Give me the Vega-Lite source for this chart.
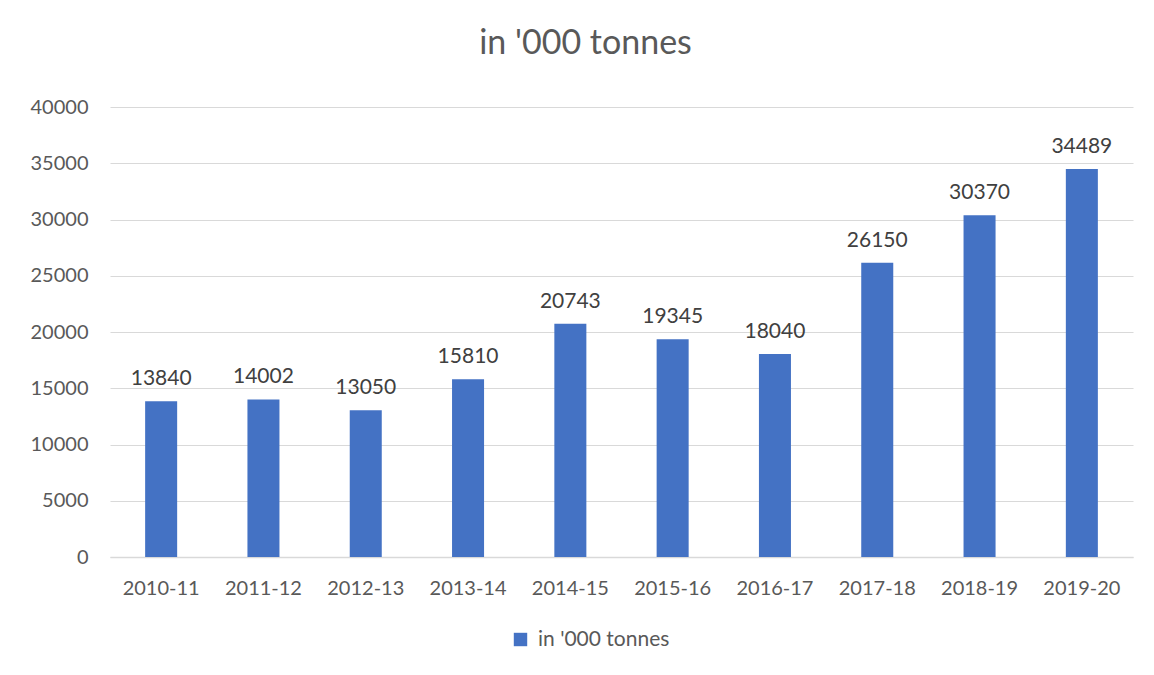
{
  "$schema": "https://vega.github.io/schema/vega-lite/v6.json",
  "autosize": "none",
  "width": 1023,
  "height": 450,
  "padding": {"left": 110, "top": 107, "right": 21, "bottom": 118},
  "background": "white",
  "config": {
    "font": "Lato",
    "view": {"stroke": null}
  },
  "title": {
    "text": "in '000 tonnes",
    "fontSize": 34,
    "font": "Lato",
    "fontWeight": "normal",
    "color": "#595959",
    "anchor": "middle",
    "dx": -36,
    "offset": 36
  },
  "data": {
    "values": [
      {"year": "2010-11", "value": 13840, "series": "in '000 tonnes"},
      {"year": "2011-12", "value": 14002, "series": "in '000 tonnes"},
      {"year": "2012-13", "value": 13050, "series": "in '000 tonnes"},
      {"year": "2013-14", "value": 15810, "series": "in '000 tonnes"},
      {"year": "2014-15", "value": 20743, "series": "in '000 tonnes"},
      {"year": "2015-16", "value": 19345, "series": "in '000 tonnes"},
      {"year": "2016-17", "value": 18040, "series": "in '000 tonnes"},
      {"year": "2017-18", "value": 26150, "series": "in '000 tonnes"},
      {"year": "2018-19", "value": 30370, "series": "in '000 tonnes"},
      {"year": "2019-20", "value": 34489, "series": "in '000 tonnes"}
    ]
  },
  "encoding": {
    "x": {
      "field": "year",
      "type": "nominal",
      "sort": null,
      "scale": {"paddingInner": 0.687, "paddingOuter": 0.3435},
      "axis": {
        "title": null,
        "labelAngle": 0,
        "labelFontSize": 20,
        "labelColor": "#595959",
        "labelPadding": 21,
        "ticks": false,
        "domainColor": "#d9d9d9",
        "domainWidth": 1.5,
        "grid": false
      }
    },
    "y": {
      "field": "value",
      "type": "quantitative",
      "scale": {"domain": [0, 40000], "nice": false},
      "axis": {
        "title": null,
        "values": [0, 5000, 10000, 15000, 20000, 25000, 30000, 35000, 40000],
        "format": "d",
        "labelFontSize": 20,
        "labelColor": "#595959",
        "labelPadding": 22,
        "ticks": false,
        "domain": false,
        "gridColor": "#d9d9d9",
        "gridWidth": 1.2
      }
    }
  },
  "layer": [
    {
      "mark": {"type": "bar"},
      "encoding": {
        "color": {
          "field": "series",
          "type": "nominal",
          "scale": {"range": ["#4472c4"]},
          "legend": {
            "title": null,
            "orient": "none",
            "legendX": 400,
            "legendY": 522,
            "symbolType": "square",
            "symbolSize": 180,
            "symbolStrokeWidth": 0,
            "labelFontSize": 21,
            "labelColor": "#595959",
            "labelOffset": 7
          }
        }
      }
    },
    {
      "mark": {"type": "text", "dy": -16, "fontSize": 21, "color": "#404040", "baseline": "alphabetic"},
      "encoding": {
        "text": {"field": "value", "type": "quantitative", "format": "d"}
      }
    }
  ]
}
